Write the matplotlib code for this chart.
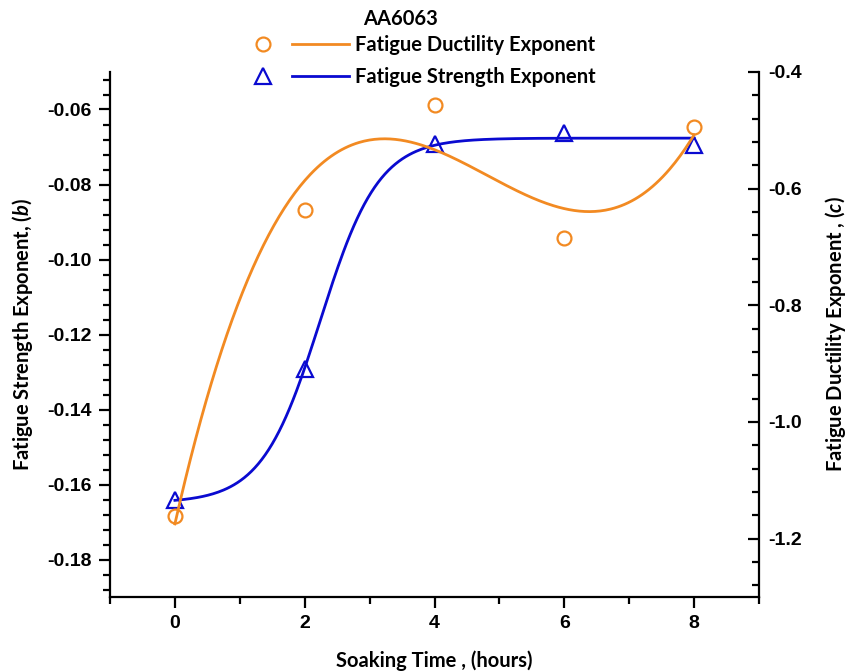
import numpy as np
import matplotlib
matplotlib.use("Agg")
import matplotlib.pyplot as plt
from matplotlib.lines import Line2D
from matplotlib.legend_handler import HandlerBase
from matplotlib.ticker import MultipleLocator, FormatStrFormatter

plt.rcParams["axes.unicode_minus"] = False
plt.rcParams["mathtext.fontset"] = "custom"
plt.rcParams["mathtext.it"] = "Lato:italic:bold"
plt.rcParams["mathtext.rm"] = "Lato:bold"

# ---- data ----
hours = [0, 2, 4, 6, 8]
strength_b = [-0.164, -0.1293, -0.0691, -0.0662, -0.0694]   # left axis
ductility_c = [-1.162, -0.637, -0.457, -0.685, -0.495]      # right axis

# Boltzmann fit shape for the strength curve (centre, width in hours)
strength_x0 = 2.24
strength_dx = 0.45

orange = "#F28A22"
blue = "#0A0AD0"
label_font = "Lato"
tick_font = "Liberation Sans"

# ---- figure / axes ----
W, H = 847, 671
fig = plt.figure(figsize=(W / 100, H / 100), dpi=100)
ax = fig.add_axes([110 / W, 1 - 597 / H, (759 - 110) / W, (597 - 72) / H])
ax2 = ax.twinx()

x = np.array(hours, dtype=float)
xs = np.linspace(0, 8, 300)

# strength: Boltzmann curve, plateaus solved by least squares
g = lambda t: 1.0 / (1.0 + np.exp((t - strength_x0) / strength_dx))
A = np.column_stack([g(x), 1 - g(x)])
a1, a2 = np.linalg.lstsq(A, np.array(strength_b), rcond=None)[0]
ys_b = a1 * g(xs) + a2 * (1 - g(xs))

# ductility: cubic polynomial fit
coef = np.polyfit(x, ductility_c, 3)
ys_c = np.polyval(coef, xs)

ln_b, = ax.plot(xs, ys_b, color=blue, lw=2.0, zorder=3)
mk_b, = ax.plot(hours, strength_b, ls="none", marker="^", ms=11, mfc="none",
                mec=blue, mew=1.6, zorder=4)
ln_c, = ax2.plot(xs, ys_c, color=orange, lw=2.0, zorder=3)
mk_c, = ax2.plot(hours, ductility_c, ls="none", marker="o", ms=10, mfc="none",
                 mec=orange, mew=1.6, zorder=4)

# ---- axes styling ----
ax.set_xlim(-1, 9)
ax.set_ylim(-0.19, -0.05)
ax2.set_ylim(-1.3, -0.4)

ax.xaxis.set_major_locator(MultipleLocator(2))
ax.xaxis.set_minor_locator(MultipleLocator(1))
ax.yaxis.set_major_locator(MultipleLocator(0.02))
ax.yaxis.set_minor_locator(MultipleLocator(0.004))
ax.yaxis.set_major_formatter(FormatStrFormatter("%.2f"))
ax2.yaxis.set_major_locator(MultipleLocator(0.2))
ax2.yaxis.set_minor_locator(MultipleLocator(0.04))
ax2.yaxis.set_major_formatter(FormatStrFormatter("%.1f"))

for a in (ax, ax2):
    a.spines["top"].set_visible(False)
    for s in a.spines.values():
        s.set_linewidth(1.6)
ax.spines["right"].set_visible(False)
ax2.spines["left"].set_visible(False)
ax2.spines["bottom"].set_visible(False)

ax.tick_params(axis="both", which="major", direction="out", length=8, width=1.6, pad=5)
ax.tick_params(axis="both", which="minor", direction="out", length=5, width=1.6)
ax2.tick_params(axis="y", which="major", direction="in", length=8, width=1.6, pad=7)
ax2.tick_params(axis="y", which="minor", direction="in", length=5, width=1.6)

for lab in ax.get_xticklabels() + ax.get_yticklabels() + ax2.get_yticklabels():
    lab.set_fontfamily(tick_font)
    lab.set_fontweight("bold")
    lab.set_fontsize(14)

ax.set_xlabel("Soaking Time , (hours)", fontfamily=label_font, fontweight="bold",
              fontsize=14.5, labelpad=13)
ax.set_ylabel(r"Fatigue Strength Exponent, $\mathit{(b)}$", fontfamily=label_font,
              fontweight="bold", fontsize=14.5, labelpad=9)
ax2.set_ylabel(r"Fatigue Ductility Exponent , $\mathit{(c)}$", fontfamily=label_font,
               fontweight="bold", fontsize=14.5, labelpad=15)


# ---- legend: marker, gap, then line ----
class MarkerThenLine(HandlerBase):
    def create_artists(self, legend, orig_handle, xdescent, ydescent,
                       width, height, fontsize, trans):
        mk, ln = orig_handle
        y = height / 2 - ydescent
        m = Line2D([-xdescent + width * 0.08], [y], ls="none",
                   marker=mk.get_marker(), ms=mk.get_markersize(), mfc="none",
                   mec=mk.get_markeredgecolor(), mew=mk.get_markeredgewidth())
        l = Line2D([-xdescent + width * 0.39, -xdescent + width], [y, y],
                   color=ln.get_color(), lw=ln.get_linewidth())
        m.set_transform(trans)
        l.set_transform(trans)
        return [m, l]


fig.legend([(mk_c, ln_c), (mk_b, ln_b)],
           ["Fatigue Ductility Exponent", "Fatigue Strength Exponent"],
           handler_map={tuple: MarkerThenLine()},
           loc="upper left", bbox_to_anchor=(256 / W, 1 - 35 / H),
           frameon=False, borderpad=0, borderaxespad=0, handlelength=4.6,
           handletextpad=0.3, labelspacing=0.6,
           prop={"family": label_font, "weight": "bold", "size": 14.5})

fig.text(401 / W, 1 - 19 / H, "AA6063", ha="center", va="center",
         fontfamily=label_font, fontweight="bold", fontsize=14.5)

fig.savefig("out.png", dpi=100)
